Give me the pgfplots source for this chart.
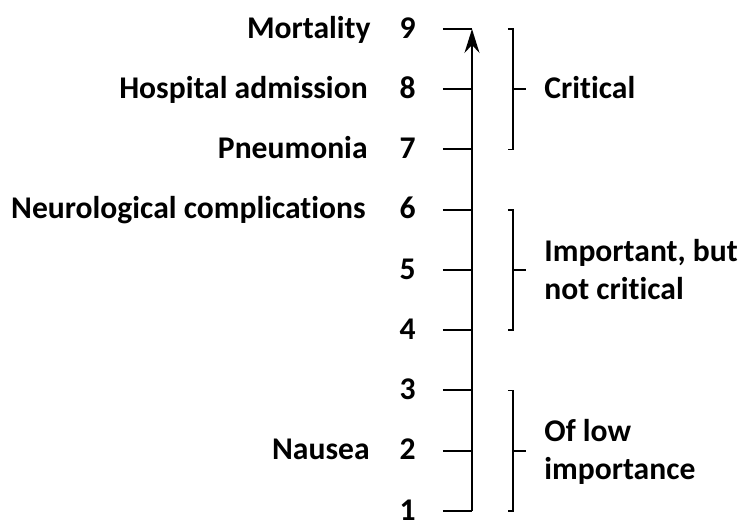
\documentclass[border=0pt]{standalone}
\usepackage{pgfplots}
\pgfplotsset{compat=1.18}
\usepackage{fontspec}
\setmainfont{Carlito}[Ligatures={NoCommon}]
\usetikzlibrary{arrows.meta}
\begin{document}
\begin{tikzpicture}
\begin{axis}[
  scale only axis, width=135.5pt, height=241pt,
  xmin=472, xmax=743, ymin=1, ymax=9,
  axis x line=none, axis y line=left,
  y axis line style={line width=1pt, black, -{Stealth[length=12pt,width=7.5pt,inset=4pt]}},
  ytick={1,...,9}, yticklabels={1,2,3,4,5,6,7,8,9},
  tick align=outside, major tick length=14.5pt,
  ytick style={line width=1pt, black},
  yticklabel style={font=\fontsize{15.8}{19}\selectfont\bfseries, inner sep=0pt, anchor=base east, yshift=-4.6pt, xshift=-13.5pt},
  clip=false,
]
\path (axis cs:0,0.9004) rectangle (axis cs:743,9.481);
% brackets
\addplot[line width=0.8pt, black] coordinates {(508,9) (513,9) (513,7) (508,7)};
\addplot[line width=0.8pt, black] coordinates {(513,8) (526,8)};
\addplot[line width=0.8pt, black] coordinates {(508,6) (513,6) (513,4) (508,4)};
\addplot[line width=0.8pt, black] coordinates {(513,5) (526,5)};
\addplot[line width=0.8pt, black] coordinates {(508,3) (513,3) (513,1) (508,1)};
\addplot[line width=0.8pt, black] coordinates {(513,2) (526,2)};
% left labels
\begin{scope}[every node/.style={font=\fontsize{15.8}{19}\selectfont\bfseries, inner sep=0pt, anchor=base east, yshift=-4.6pt}]
\node at (axis cs:371,9) {Mortality};
\node at (axis cs:368,8) {Hospital admission};
\node at (axis cs:368,7) {Pneumonia};
\node at (axis cs:366,6) {Neurological complications};
\node at (axis cs:370,2) {Nausea};
\end{scope}
% right labels
\begin{scope}[every node/.style={font=\fontsize{15.8}{19}\selectfont\bfseries, inner sep=0pt, anchor=base west}]
\node at (axis cs:544,7.838) {Critical};
\node at (axis cs:544,5.133) {Important, but};
\node at (axis cs:544,4.502) {not critical};
\node at (axis cs:544,2.145) {Of low};
\node at (axis cs:544,1.515) {importance};
\end{scope}
\end{axis}
\end{tikzpicture}
\end{document}
